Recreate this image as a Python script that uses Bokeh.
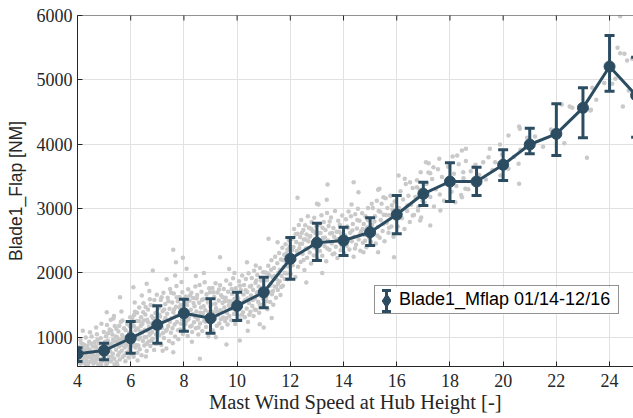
import math
from bokeh.plotting import figure
from bokeh.models import Range1d, Legend, LegendItem, FixedTicker, ColumnDataSource, Span
from bokeh.embed import file_html
from bokeh.resources import INLINE

# ---------------- data ----------------
wind_speed = [4, 5, 6, 7, 8, 9, 10, 11, 12, 13, 14, 15, 16, 17, 18, 19, 20, 21, 22, 23, 24, 25]
mean_load = [742, 793, 984, 1193, 1373, 1295, 1488, 1699, 2218, 2467, 2503, 2632, 2907, 3229,
             3420, 3420, 3680, 3995, 4161, 4565, 5207, 4757]
err_low = [622, 649, 751, 907, 1093, 1062, 1260, 1457, 1901, 2192, 2270, 2425, 2607, 3047,
           3109, 3202, 3435, 3850, 3824, 4099, 4823, 4108]
err_high = [835, 907, 1244, 1488, 1591, 1597, 1699, 1933, 2550, 2772, 2710, 2856, 3202, 3409,
            3711, 3642, 3913, 4248, 4628, 4876, 5689, 5352]

x_ticks = [4, 6, 8, 10, 12, 14, 16, 18, 20, 22, 24]
y_ticks = [1000, 2000, 3000, 4000, 5000, 6000]

series_label = "Blade1_Mflap 01/14-12/16"
x_label = "Mast Wind Speed at Hub Height [-]"
y_label = "Blade1_Flap [NM]"

# raw 10-min samples (wind speed, flap load)
cloud_4_5 = [(4.03, 612), (4.05, 845), (4.08, 702), (4.11, 958), (4.12, 590), (4.15, 774), (4.18, 668),
             (4.21, 889), (4.22, 731), (4.25, 603), (4.27, 812), (4.31, 995), (4.33, 648), (4.34, 756),
             (4.37, 871), (4.40, 579), (4.41, 693), (4.44, 930), (4.46, 804), (4.48, 622), (4.51, 741),
             (4.53, 1012), (4.55, 668), (4.58, 857), (4.60, 590), (4.62, 779), (4.65, 924), (4.66, 705),
             (4.69, 640), (4.71, 838), (4.73, 1047), (4.76, 722), (4.78, 581), (4.80, 903), (4.83, 658),
             (4.85, 792), (4.87, 985), (4.90, 611), (4.92, 747), (4.95, 866), (4.97, 689), (4.99, 1080),
             (4.06, 660), (4.19, 820), (4.29, 700), (4.43, 775), (4.57, 720), (4.64, 610), (4.74, 680),
             (4.88, 835), (4.14, 905), (4.36, 615), (4.20, 1100), (4.47, 1078), (4.90, 1208), (4.70, 1150),
             (4.09, 760), (4.16, 640), (4.24, 880), (4.32, 560), (4.39, 820), (4.45, 700), (4.52, 900),
             (4.59, 640), (4.67, 860), (4.75, 960), (4.82, 740), (4.89, 570), (4.96, 780)]
cloud_5_6 = [(5.02, 640), (5.04, 872), (5.07, 1015), (5.09, 735), (5.12, 598), (5.14, 948), (5.16, 806),
             (5.19, 690), (5.21, 1121), (5.23, 781), (5.26, 625), (5.28, 904), (5.31, 1043), (5.33, 744),
             (5.35, 862), (5.38, 667), (5.40, 1176), (5.42, 935), (5.45, 805), (5.47, 612), (5.49, 998),
             (5.52, 720), (5.54, 1088), (5.56, 856), (5.59, 655), (5.61, 962), (5.63, 1240), (5.66, 788),
             (5.68, 1035), (5.70, 694), (5.73, 912), (5.75, 1140), (5.77, 840), (5.80, 628), (5.82, 1002),
             (5.84, 760), (5.87, 1205), (5.89, 921), (5.92, 686), (5.94, 1068), (5.96, 827), (5.98, 1310),
             (5.06, 760), (5.18, 890), (5.29, 700), (5.44, 1010), (5.58, 760), (5.72, 980), (5.86, 880),
             (5.11, 1190), (5.37, 1330), (5.65, 1400), (5.25, 1270), (5.50, 570), (5.10, 1389),
             (5.60, 1622), (5.35, 1290),
             (5.03, 930), (5.08, 580), (5.15, 1060), (5.22, 850), (5.27, 1100), (5.34, 960), (5.39, 580),
             (5.46, 1130), (5.53, 940), (5.57, 1180), (5.64, 880), (5.69, 1260), (5.76, 720), (5.81, 1110),
             (5.88, 1010), (5.93, 780), (5.97, 1170)]
cloud_6_7 = [(6.02, 745), (6.04, 1062), (6.06, 1288), (6.09, 905), (6.11, 698), (6.13, 1167), (6.16, 1395),
             (6.18, 842), (6.20, 1021), (6.23, 1251), (6.25, 760), (6.27, 1134), (6.30, 968), (6.32, 1462),
             (6.34, 815), (6.37, 1089), (6.39, 1310), (6.41, 721), (6.44, 1205), (6.46, 943), (6.48, 1528),
             (6.51, 870), (6.53, 1116), (6.55, 1352), (6.58, 1004), (6.60, 785), (6.62, 1273), (6.65, 1431),
             (6.67, 932), (6.69, 1157), (6.72, 1590), (6.74, 862), (6.76, 1064), (6.79, 1326), (6.81, 1215),
             (6.83, 978), (6.86, 1488), (6.88, 801), (6.90, 1140), (6.93, 1378), (6.95, 1042), (6.98, 1660),
             (6.07, 980), (6.21, 880), (6.35, 1000), (6.50, 1260), (6.63, 1100), (6.77, 950), (6.92, 1240),
             (6.15, 1540), (6.42, 1650), (6.70, 1720), (6.26, 640), (6.57, 700), (6.10, 1777), (6.60, 1830),
             (6.83, 2037),
             (6.03, 870), (6.08, 1190), (6.12, 1340), (6.19, 1110), (6.24, 1380), (6.29, 870), (6.33, 1250),
             (6.38, 1180), (6.43, 1070), (6.47, 1390), (6.52, 1000), (6.56, 1470), (6.61, 900), (6.66, 1230),
             (6.71, 1040), (6.75, 1500), (6.80, 1080), (6.85, 1290), (6.89, 1580), (6.94, 900), (6.97, 1300)]
cloud_7_8 = [(7.01, 903), (7.04, 1211), (7.06, 1457), (7.08, 1036), (7.11, 1322), (7.13, 1578), (7.15, 880),
             (7.18, 1145), (7.20, 1402), (7.23, 1693), (7.25, 987), (7.27, 1260), (7.30, 1515), (7.32, 1098),
             (7.34, 826), (7.37, 1366), (7.39, 1612), (7.41, 1175), (7.44, 942), (7.46, 1443), (7.48, 1748),
             (7.51, 1068), (7.53, 1295), (7.56, 1540), (7.58, 908), (7.60, 1387), (7.62, 1680), (7.65, 1196),
             (7.67, 1012), (7.70, 1472), (7.72, 1795), (7.74, 1238), (7.77, 1560), (7.79, 968), (7.81, 1341),
             (7.84, 1627), (7.86, 1119), (7.88, 1502), (7.91, 1860), (7.93, 1275), (7.96, 1049), (7.98, 1590),
             (7.60, 2358), (7.70, 2166), (7.96, 2234), (7.67, 1959), (7.35, 1900), (7.60, 767), (7.20, 790),
             (7.02, 1090), (7.07, 1350), (7.12, 1180), (7.16, 1620), (7.21, 1060), (7.26, 1430), (7.31, 1300),
             (7.36, 1120), (7.42, 1560), (7.47, 1240), (7.52, 1690), (7.57, 1140), (7.63, 1430), (7.68, 1330),
             (7.73, 1620), (7.78, 1110), (7.83, 1460), (7.89, 1210), (7.94, 1700), (7.99, 1380)]
cloud_8_9 = [(8.02, 1108), (8.04, 1386), (8.07, 1633), (8.09, 1247), (8.12, 1502), (8.14, 1020), (8.16, 1745),
             (8.19, 1318), (8.21, 1571), (8.24, 1165), (8.26, 1428), (8.28, 1692), (8.31, 1083), (8.33, 1356),
             (8.35, 1610), (8.38, 1232), (8.40, 1480), (8.43, 1787), (8.45, 1140), (8.47, 1399), (8.50, 1655),
             (8.52, 1276), (8.54, 1041), (8.57, 1535), (8.59, 1812), (8.61, 1212), (8.64, 1460), (8.66, 1705),
             (8.69, 1097), (8.71, 1372), (8.73, 1590), (8.76, 1254), (8.78, 1856), (8.80, 1418), (8.83, 1158),
             (8.85, 1668), (8.87, 1326), (8.90, 1540), (8.92, 1011), (8.95, 1762), (8.97, 1285), (8.99, 1479),
             (8.10, 2063), (8.60, 664), (8.30, 930), (8.75, 2000), (8.45, 1950),
             (8.05, 1200), (8.11, 1560), (8.17, 1280), (8.23, 1650), (8.29, 1180), (8.36, 1530), (8.42, 1320),
             (8.48, 1600), (8.55, 1150), (8.62, 1380), (8.68, 1580), (8.74, 1480), (8.81, 1240), (8.86, 1600),
             (8.93, 1390), (8.98, 1700)]
cloud_9_10 = [(9.02, 1230), (9.04, 1512), (9.07, 1765), (9.09, 1104), (9.12, 1385), (9.14, 1630), (9.17, 1288),
              (9.19, 1840), (9.21, 1452), (9.24, 1178), (9.26, 1695), (9.28, 1340), (9.31, 1570), (9.33, 1215),
              (9.36, 1806), (9.38, 1421), (9.40, 1652), (9.43, 1145), (9.45, 1530), (9.47, 1308), (9.50, 1748),
              (9.52, 1463), (9.55, 1252), (9.57, 1612), (9.59, 1880), (9.62, 1380), (9.64, 1196), (9.66, 1705),
              (9.69, 1498), (9.71, 1330), (9.74, 1822), (9.76, 1556), (9.78, 1262), (9.81, 1677), (9.83, 1440),
              (9.85, 1915), (9.88, 1360), (9.90, 1598), (9.93, 1204), (9.95, 1763), (9.97, 1486), (9.99, 1652),
              (9.36, 2243), (9.60, 887), (9.20, 1000), (9.70, 2060), (9.90, 2000),
              (9.05, 1400), (9.11, 1700), (9.18, 1520), (9.25, 1400), (9.32, 1740), (9.39, 1280), (9.46, 1620),
              (9.53, 1560), (9.60, 1300), (9.67, 1560), (9.73, 1450), (9.80, 1750), (9.87, 1520), (9.94, 1380)]
cloud_10_11 = [(10.02, 1342), (10.04, 1605), (10.07, 1870), (10.09, 1460), (10.12, 1275), (10.14, 1733),
               (10.17, 1528), (10.19, 1958), (10.22, 1390), (10.24, 1664), (10.26, 1812), (10.29, 1310),
               (10.31, 1580), (10.33, 1905), (10.36, 1447), (10.38, 1702), (10.41, 1236), (10.43, 1995),
               (10.45, 1530), (10.48, 1788), (10.50, 1396), (10.52, 1647), (10.55, 1920), (10.57, 1485),
               (10.60, 1738), (10.62, 1330), (10.64, 2032), (10.67, 1602), (10.69, 1846), (10.71, 1424),
               (10.74, 1690), (10.76, 1968), (10.79, 1553), (10.81, 1790), (10.83, 1380), (10.86, 2075),
               (10.88, 1645), (10.90, 1880), (10.93, 1502), (10.95, 1760), (10.98, 2010),
               (10.10, 949), (10.37, 2166), (10.70, 2114), (10.40, 1100), (10.85, 1200),
               (10.05, 1520), (10.11, 1800), (10.18, 1350), (10.25, 1550), (10.32, 1730), (10.39, 1600),
               (10.46, 1350), (10.53, 1800), (10.59, 1580), (10.66, 1430), (10.72, 1880), (10.78, 1700),
               (10.85, 1510), (10.91, 1700), (10.97, 1600)]
cloud_11_12 = [(11.02, 1498), (11.04, 1752), (11.07, 2005), (11.09, 1620), (11.12, 1885), (11.14, 1433),
               (11.17, 2112), (11.19, 1705), (11.22, 1960), (11.24, 1548), (11.27, 1830), (11.29, 2195),
               (11.31, 1666), (11.34, 1928), (11.36, 1506), (11.39, 2074), (11.41, 1790), (11.43, 2250),
               (11.46, 1614), (11.48, 1902), (11.51, 2148), (11.53, 1735), (11.55, 2002), (11.58, 2310),
               (11.60, 1868), (11.63, 1658), (11.65, 2206), (11.67, 1950), (11.70, 2392), (11.72, 1800),
               (11.75, 2090), (11.77, 2280), (11.79, 1905), (11.82, 2446), (11.84, 2170), (11.87, 1992),
               (11.89, 2358), (11.91, 2104), (11.94, 2512), (11.96, 2248),
               (11.18, 2529), (11.52, 2477), (11.00, 1150), (11.30, 1300),
               (11.05, 1700), (11.11, 1560), (11.16, 1990), (11.23, 1800), (11.28, 2050), (11.35, 1720),
               (11.40, 1950), (11.47, 1780), (11.54, 1830), (11.61, 2050), (11.66, 1780), (11.73, 2200),
               (11.78, 2000), (11.85, 2300), (11.90, 1900), (11.97, 2400)]
cloud_12_13 = [(12.02, 1988), (12.04, 2265), (12.07, 2530), (12.09, 2120), (12.12, 2402), (12.14, 2680),
               (12.17, 2208), (12.19, 1935), (12.22, 2478), (12.24, 2340), (12.27, 2610), (12.29, 2095),
               (12.32, 2745), (12.34, 2382), (12.37, 2556), (12.39, 2170), (12.41, 2820), (12.44, 2452),
               (12.46, 2295), (12.49, 2668), (12.51, 2520), (12.53, 2046), (12.56, 2740), (12.58, 2380),
               (12.61, 2595), (12.63, 2236), (12.66, 2880), (12.68, 2490), (12.70, 2702), (12.73, 2315),
               (12.75, 2575), (12.78, 2146), (12.80, 2790), (12.83, 2440), (12.85, 2650), (12.88, 2270),
               (12.90, 2858), (12.93, 2530), (12.95, 2384), (12.98, 2720), (12.27, 3167), (12.60, 1850),
               (12.06, 2350), (12.13, 2200), (12.20, 2600), (12.28, 2300), (12.36, 2450), (12.43, 2620),
               (12.50, 2200), (12.57, 2520), (12.65, 2380), (12.72, 2560), (12.79, 2680), (12.87, 2400),
               (12.94, 2620)]
cloud_13_14 = [(13.02, 2210), (13.05, 2486), (13.08, 2752), (13.11, 2340), (13.14, 2618), (13.17, 2895),
               (13.20, 2265), (13.23, 2544), (13.26, 2790), (13.29, 2412), (13.32, 2665), (13.35, 2180),
               (13.38, 2930), (13.41, 2503), (13.44, 2730), (13.47, 2358), (13.50, 2612), (13.53, 2860),
               (13.56, 2455), (13.59, 2290), (13.62, 2698), (13.65, 2560), (13.68, 2960), (13.71, 2405),
               (13.74, 2640), (13.77, 2230), (13.80, 2812), (13.83, 2525), (13.86, 2748), (13.89, 2350),
               (13.92, 2605), (13.95, 2890), (13.98, 2470),
               (13.40, 3373), (13.06, 3063), (13.37, 3135), (13.00, 3073), (13.20, 2000),
               (13.04, 2620), (13.12, 2480), (13.21, 2700), (13.30, 2550), (13.39, 2380), (13.48, 2800),
               (13.57, 2620), (13.66, 2300), (13.75, 2520), (13.84, 2640), (13.93, 2420)]
cloud_14_15 = [(14.03, 2305), (14.06, 2580), (14.09, 2835), (14.12, 2420), (14.16, 2700), (14.19, 2952),
               (14.22, 2365), (14.25, 2622), (14.28, 2880), (14.31, 2490), (14.35, 2760), (14.38, 2250),
               (14.41, 2560), (14.44, 2910), (14.47, 2438), (14.50, 2690), (14.54, 2995), (14.57, 2520),
               (14.60, 2810), (14.63, 2345), (14.66, 2648), (14.70, 2925), (14.73, 2470), (14.76, 2760),
               (14.79, 2590), (14.83, 2880), (14.86, 2400), (14.89, 2705), (14.92, 3010), (14.96, 2550),
               (14.38, 3409), (14.56, 3254), (14.30, 3063), (14.75, 2321),
               (14.05, 2450), (14.14, 2720), (14.24, 2520), (14.33, 2660), (14.43, 2380), (14.52, 2820),
               (14.62, 2600), (14.72, 2680), (14.81, 2500), (14.91, 2820)]
cloud_15_16 = [(15.03, 2480), (15.07, 2745), (15.10, 3010), (15.14, 2600), (15.18, 2880), (15.21, 2455),
               (15.25, 3120), (15.29, 2712), (15.32, 2960), (15.36, 2545), (15.40, 2820), (15.43, 3075),
               (15.47, 2650), (15.51, 2905), (15.54, 2490), (15.58, 3160), (15.62, 2780), (15.65, 3010),
               (15.69, 2625), (15.73, 2895), (15.76, 3200), (15.80, 2720), (15.84, 2980), (15.88, 2560),
               (15.92, 3110), (15.96, 2840),
               (15.30, 3291), (15.50, 3176), (15.06, 3073), (15.30, 2321), (15.90, 2243), (15.35, 3306),
               (15.05, 2650), (15.16, 2800), (15.27, 2580), (15.38, 2950), (15.49, 2760), (15.60, 2900),
               (15.71, 2700), (15.82, 3050), (15.94, 2980)]
cloud_16_18 = [(16.04, 2720), (16.09, 3010), (16.14, 3270), (16.19, 2850), (16.24, 3140), (16.29, 2680),
               (16.34, 3380), (16.39, 2960), (16.44, 3200), (16.49, 2790), (16.54, 3060), (16.60, 3320),
               (16.65, 2900), (16.70, 3180), (16.76, 3440), (16.81, 3020), (16.86, 3290), (16.92, 2860),
               (16.97, 3120), (16.07, 3513), (16.30, 3462), (16.50, 3409), (16.76, 3331), (16.40, 3047),
               (16.88, 2814), (16.60, 2891), (16.80, 2969), (16.90, 3564),
               (17.05, 3090), (17.12, 3380), (17.19, 3560), (17.26, 3180), (17.33, 3460), (17.40, 3030),
               (17.47, 3300), (17.55, 3610), (17.62, 3220), (17.70, 3490), (17.78, 3120), (17.85, 3380),
               (17.93, 3650), (17.10, 3720), (17.60, 3773), (17.38, 3642), (17.26, 3549), (17.20, 3704),
               (17.64, 2969), (17.26, 2736)]
cloud_18_20 = [(18.06, 3260), (18.15, 3540), (18.24, 3350), (18.33, 3690), (18.42, 3210), (18.51, 3470),
               (18.60, 3740), (18.69, 3300), (18.78, 3580), (18.88, 3420), (18.96, 3680),
               (18.45, 3902), (18.27, 3824), (18.50, 3564), (18.45, 3176), (18.58, 3306), (18.20, 3098),
               (18.60, 3928), (18.10, 3808), (18.90, 3642),
               (19.10, 3520), (19.25, 3720), (19.45, 3798), (19.50, 3928), (19.70, 3720), (19.90, 3513),
               (19.96, 3840), (19.88, 3995), (19.35, 3450), (19.60, 3600)]
cloud_20_25 = [(20.20, 4135), (20.60, 4275), (20.63, 4240), (20.58, 3695), (20.84, 3953), (20.65, 3912),
               (20.60, 3384), (20.20, 3617), (20.40, 3800), (20.90, 4100), (21.20, 4120), (21.50, 3960),
               (21.80, 4230), (22.20, 4617), (22.60, 4565), (22.50, 4586), (23.15, 3788), (22.30, 4015),
               (23.30, 4535), (23.50, 4690), (23.35, 4876), (23.28, 4523), (23.80, 4950), (24.40, 5990),
               (24.40, 5414), (24.56, 5404), (24.66, 5300), (24.10, 4938), (24.22, 5016), (24.50, 4586),
               (24.72, 4834), (24.85, 4783), (24.85, 5327), (24.30, 5500)]

cloud = (cloud_4_5 + cloud_5_6 + cloud_6_7 + cloud_7_8 + cloud_8_9 + cloud_9_10 + cloud_10_11 +
         cloud_11_12 + cloud_12_13 + cloud_13_14 + cloud_14_15 + cloud_15_16 + cloud_16_18 +
         cloud_18_20 + cloud_20_25)
cloud_ws = [c[0] for c in cloud]
cloud_load = [c[1] for c in cloud]

# ---------------- layout & style ----------------
MAIN = "#2c4d61"
CLOUD = "#c9c9c9"
TXT = "#262626"
GRID = "#e1e1e1"

W, H = 633, 418
B_LEFT, B_RIGHT, B_TOP, B_BOTTOM = 77, 0, 15, 52
X0, X1 = 4, 24.9
Y0, Y1 = 545, 6000

p = figure(width=W, height=H, output_backend="svg", toolbar_location=None,
           x_range=Range1d(X0, X1), y_range=Range1d(Y0, Y1),
           min_border_left=B_LEFT, min_border_right=B_RIGHT,
           min_border_top=B_TOP, min_border_bottom=B_BOTTOM)
p.outline_line_color = None
p.background_fill_color = "white"
p.border_fill_color = "white"

for ax, ticks in ((p.xaxis[0], x_ticks), (p.yaxis[0], y_ticks)):
    ax.ticker = FixedTicker(ticks=ticks)
    ax.major_tick_in = 5
    ax.major_tick_out = 0
    ax.minor_tick_line_color = None
    ax.axis_line_color = TXT
    ax.major_tick_line_color = TXT
    ax.major_label_text_color = TXT
    ax.axis_label_text_color = TXT
    ax.axis_label_text_font_style = "normal"

p.xaxis.major_label_text_font = "Liberation Serif"
p.xaxis.major_label_text_font_size = "18px"
p.xaxis.major_label_standoff = 7
p.xaxis.axis_label = x_label
p.xaxis.axis_label_text_font = "Liberation Serif"
p.xaxis.axis_label_text_font_size = "20.5px"
p.xaxis.axis_label_standoff = 1

p.yaxis.major_label_text_font = "Liberation Serif"
p.yaxis.major_label_text_font_size = "18px"
p.yaxis.major_label_standoff = 5
p.yaxis.axis_label = y_label
p.yaxis.axis_label_text_font = "Liberation Sans"
p.yaxis.axis_label_text_font_size = "17.5px"
p.yaxis.axis_label_standoff = 8

p.xgrid.grid_line_color = GRID
p.ygrid.grid_line_color = GRID
p.xgrid.ticker = FixedTicker(ticks=x_ticks)
p.ygrid.ticker = FixedTicker(ticks=y_ticks)

# top box edge with inward ticks
p.add_layout(Span(location=Y1, dimension="width", line_color=TXT, line_width=1))
p.scatter(x_ticks, [Y1] * len(x_ticks), marker="dash", angle=math.pi / 2, size=10,
          line_color=TXT, line_width=1)

# ---------------- glyphs ----------------
p.scatter(cloud_ws, cloud_load, size=4.5, fill_color=CLOUD, line_color=None)

src = ColumnDataSource(dict(ws=wind_speed, mean=mean_load, lo=err_low, hi=err_high))
p.line("ws", "mean", source=src, line_width=3, line_color=MAIN)
p.segment(x0="ws", y0="lo", x1="ws", y1="hi", source=src, line_width=3, line_color=MAIN)
p.scatter("ws", "lo", source=src, marker="dash", size=10, line_width=3, line_color=MAIN)
p.scatter("ws", "hi", source=src, marker="dash", size=10, line_width=3, line_color=MAIN)
p.scatter("ws", "mean", source=src, size=11, fill_color=MAIN, line_color=MAIN)

# ---------------- legend ----------------
# legend box geometry in screen px, relative to the frame's bottom-left corner
LEG_LEFT, LEG_BOTTOM, LEG_W, LEG_H, GLYPH_W = 297, 52, 243, 27, 24
px_per_x = (W - B_LEFT - B_RIGHT) / (X1 - X0)
px_per_y = (H - B_TOP - B_BOTTOM) / (Y1 - Y0)
icon_x = X0 + (LEG_LEFT + GLYPH_W / 2) / px_per_x
icon_y = Y0 + (LEG_BOTTOM + LEG_H / 2) / px_per_y
half = 10.5 / px_per_y

# white panel behind the (transparent) legend, so the errorbar icon can sit on it
box_src = ColumnDataSource(dict(l=[X0 + LEG_LEFT / px_per_x], r=[X0 + (LEG_LEFT + LEG_W) / px_per_x],
                                b=[Y0 + LEG_BOTTOM / px_per_y], t=[Y0 + (LEG_BOTTOM + LEG_H) / px_per_y]))
p.quad(left="l", right="r", bottom="b", top="t", source=box_src, fill_color="white", line_color=None)

icon_src = ColumnDataSource(dict(x=[icon_x], y=[icon_y], lo=[icon_y - half], hi=[icon_y + half]))
p.segment(x0="x", y0="lo", x1="x", y1="hi", source=icon_src, line_width=3, line_color=MAIN)
p.scatter("x", "lo", source=icon_src, marker="dash", size=9, line_width=3, line_color=MAIN)
p.scatter("x", "hi", source=icon_src, marker="dash", size=9, line_width=3, line_color=MAIN)
icon_diamond = p.scatter("x", "y", source=icon_src, marker="diamond", size=13,
                         fill_color=MAIN, line_color=MAIN)

legend = Legend(items=[LegendItem(label=series_label, renderers=[icon_diamond])],
                location=(LEG_LEFT, LEG_BOTTOM), padding=0, margin=0, spacing=0,
                glyph_width=GLYPH_W, glyph_height=LEG_H, label_height=LEG_H,
                label_width=LEG_W - GLYPH_W, label_standoff=0,
                label_text_font="Liberation Sans", label_text_font_size="18px",
                label_text_color="black", border_line_color=TXT, border_line_width=1,
                background_fill_alpha=0)
p.add_layout(legend, "center")

open("out.html", "w").write(file_html(p, INLINE))
